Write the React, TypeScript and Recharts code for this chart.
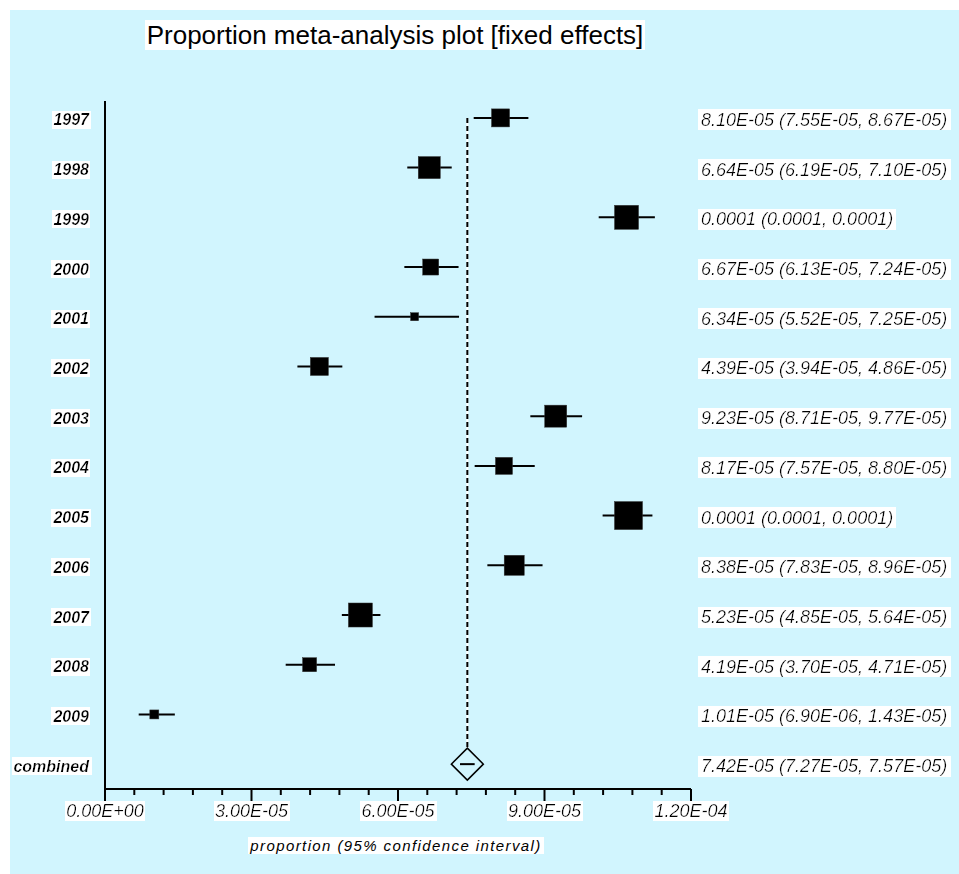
import React from 'react';
import { ScatterChart, Scatter, XAxis, YAxis, ErrorBar, ReferenceLine } from 'recharts';

// ---- data ----
const studyLabels = ['1997', '1998', '1999', '2000', '2001', '2002', '2003', '2004', '2005', '2006', '2007', '2008', '2009'];
const estimates = [8.10e-5, 6.64e-5, 1.068e-4, 6.67e-5, 6.34e-5, 4.39e-5, 9.23e-5, 8.17e-5, 1.072e-4, 8.38e-5, 5.23e-5, 4.19e-5, 1.01e-5];
const lowerCI = [7.55e-5, 6.19e-5, 1.011e-4, 6.13e-5, 5.52e-5, 3.94e-5, 8.71e-5, 7.57e-5, 1.019e-4, 7.83e-5, 4.85e-5, 3.70e-5, 6.90e-6];
const upperCI = [8.67e-5, 7.10e-5, 1.126e-4, 7.24e-5, 7.25e-5, 4.86e-5, 9.77e-5, 8.80e-5, 1.121e-4, 8.96e-5, 5.64e-5, 4.71e-5, 1.43e-5];
// percentage weights (box area proportional to weight)
const weights = [6.70, 10.0, 11.9, 5.29, 1.32, 6.70, 10.0, 5.97, 16.2, 8.27, 11.9, 4.05, 1.67];
const resultLabels = [
  '8.10E-05 (7.55E-05, 8.67E-05)',
  '6.64E-05 (6.19E-05, 7.10E-05)',
  '0.0001 (0.0001, 0.0001)',
  '6.67E-05 (6.13E-05, 7.24E-05)',
  '6.34E-05 (5.52E-05, 7.25E-05)',
  '4.39E-05 (3.94E-05, 4.86E-05)',
  '9.23E-05 (8.71E-05, 9.77E-05)',
  '8.17E-05 (7.57E-05, 8.80E-05)',
  '0.0001 (0.0001, 0.0001)',
  '8.38E-05 (7.83E-05, 8.96E-05)',
  '5.23E-05 (4.85E-05, 5.64E-05)',
  '4.19E-05 (3.70E-05, 4.71E-05)',
  '1.01E-05 (6.90E-06, 1.43E-05)',
];
const pooledLabel = 'combined';
const pooledEstimate = 7.42e-5;
const pooledLower = 7.27e-5;
const pooledUpper = 7.57e-5;
const pooledResult = '7.42E-05 (7.27E-05, 7.57E-05)';
const majorTicks = [0, 3e-5, 6e-5, 9e-5, 1.2e-4];
const minorPerMajor = 5;

const TITLE = 'Proportion meta-analysis plot [fixed effects]';
const X_LABEL = 'proportion (95% confidence interval)';

// ---- derived tables ----
const rowLabels = [...studyLabels, pooledLabel];
const rowResults = [...resultLabels, pooledResult];
const rowIndex = rowLabels.map((_, i) => i);

const studyData = studyLabels.map((name, i) => ({
  name,
  row: i,
  p: estimates[i],
  err: [estimates[i] - lowerCI[i], upperCI[i] - estimates[i]],
  weight: weights[i],
}));
const pooledData = [
  {
    name: pooledLabel,
    row: studyLabels.length,
    p: pooledEstimate,
    err: [pooledEstimate - pooledLower, pooledUpper - pooledEstimate],
  },
];

const xTicks: number[] = [];
majorTicks.forEach((t, i) => {
  xTicks.push(t);
  if (i < majorTicks.length - 1) {
    const step = (majorTicks[i + 1] - t) / minorPerMajor;
    for (let k = 1; k < minorPerMajor; k++) xTicks.push(t + k * step);
  }
});

const fmtExp = (v: number) => {
  const [m, e] = v.toExponential(2).split('e');
  const sign = e[0] === '-' ? '-' : '+';
  const digits = e.replace(/^[+-]/, '').padStart(2, '0');
  return `${m}E${sign}${digits}`;
};

// ---- styles ----
const FONT = '"Liberation Sans", Arial, Helvetica, sans-serif';
const BG = '#d1f5fe';
const Y_DOMAIN: [number, number] = [-0.34, 13.5];
const BOX_SCALE = 6.96;
const DIAMOND_HALF = 16;

const XTick = (props: any) => {
  const { x, y, payload } = props;
  const isMajor = majorTicks.some((t) => Math.abs(t - payload.value) < 1e-10);
  return (
    <g>
      <line x1={x} x2={x} y1={y} y2={y + (isMajor ? 12 : 6)} stroke="#000" strokeWidth={2} />
      {isMajor && (
        <text
          x={x}
          y={y + 22}
          textAnchor="middle"
          dominantBaseline="central"
          filter="url(#wbg)"
          fontFamily={FONT}
          fontStyle="italic"
          fontSize={18}
          fill="#000"
        >
          {fmtExp(payload.value)}
        </text>
      )}
    </g>
  );
};

const LeftTick = (props: any) => {
  const { x, y, payload } = props;
  return (
    <text
      x={x - 16}
      y={y + 2}
      textAnchor="end"
      dominantBaseline="central"
      filter="url(#wbg)"
      fontFamily={FONT}
      fontStyle="italic"
      fontWeight="bold"
      fontSize={16}
      fill="#000"
    >
      {rowLabels[payload.value]}
    </text>
  );
};

const RightTick = (props: any) => {
  const { x, y, payload } = props;
  return (
    <text
      x={x + 10}
      y={y + 2}
      textAnchor="start"
      dominantBaseline="central"
      filter="url(#wbg)"
      fontFamily={FONT}
      fontStyle="italic"
      fontSize={18}
      fill="#000"
    >
      {rowResults[payload.value]}
    </text>
  );
};

const BoxShape = (props: any) => {
  const { cx, cy, payload } = props;
  const s = Math.sqrt(payload.weight) * BOX_SCALE;
  return <rect x={cx - s / 2} y={cy - s / 2} width={s} height={s} fill="#000" stroke="#333" strokeWidth={0.5} />;
};

const DiamondShape = (props: any) => {
  const { cx, cy } = props;
  const h = DIAMOND_HALF;
  return (
    <polygon
      points={`${cx},${cy - h} ${cx + h},${cy} ${cx},${cy + h} ${cx - h},${cy}`}
      fill="none"
      stroke="#000"
      strokeWidth={1.5}
    />
  );
};

export default function App() {
  const lineTop = 0;
  const lineBottom = studyLabels.length - DIAMOND_HALF / 49.7;
  return (
    <div style={{ position: 'absolute', left: 0, top: 0, width: 959, height: 874, background: '#fff', overflow: 'hidden' }}>
      <svg width={0} height={0} style={{ position: 'absolute' }}>
        <defs>
          <filter id="wbg" x="-0.012" y="0" width="1.024" height="1">
            <feFlood floodColor="#ffffff" result="bg" />
            <feComposite in="SourceGraphic" in2="bg" operator="over" />
          </filter>
        </defs>
      </svg>
      <div style={{ position: 'absolute', left: 10, top: 10, width: 949, height: 864, background: BG }} />
      <div style={{ position: 'absolute', left: 0, top: 19, width: 790, textAlign: 'center', fontFamily: FONT, fontSize: 26, lineHeight: '32px' }}>
        <span style={{ background: '#fff', padding: '0 2px' }}>{TITLE}</span>
      </div>
      <div style={{ position: 'absolute', left: 0, top: 835, width: 792, textAlign: 'center', fontFamily: FONT, fontSize: 15, fontStyle: 'italic', lineHeight: '22px', letterSpacing: 1.4 }}>
        <span style={{ background: '#fff', padding: '0 2px' }}>{X_LABEL}</span>
      </div>
      <div style={{ position: 'absolute', left: 0, top: 0 }}>
        <ScatterChart width={959} height={874} margin={{ top: 101, left: 104, right: 267, bottom: 84 }}>
          <XAxis
            type="number"
            dataKey="p"
            domain={[0, 1.2e-4]}
            ticks={xTicks}
            interval={0}
            height={1}
            tickSize={0}
            tickMargin={0}
            tickLine={false}
            axisLine={{ stroke: '#000', strokeWidth: 2 }}
            tick={<XTick />}
            allowDataOverflow
          />
          <YAxis
            yAxisId="left"
            type="number"
            dataKey="row"
            domain={Y_DOMAIN}
            reversed
            ticks={rowIndex}
            interval={0}
            width={1}
            tickSize={0}
            tickMargin={0}
            tickLine={false}
            axisLine={{ stroke: '#000', strokeWidth: 2 }}
            tick={<LeftTick />}
            allowDataOverflow
          />
          <YAxis
            yAxisId="right"
            orientation="right"
            type="number"
            dataKey="row"
            domain={Y_DOMAIN}
            reversed
            ticks={rowIndex}
            interval={0}
            width={1}
            tickSize={0}
            tickMargin={0}
            tickLine={false}
            axisLine={false}
            tick={<RightTick />}
            allowDataOverflow
          />
          <ReferenceLine
            yAxisId="left"
            segment={[{ x: pooledEstimate, y: lineTop }, { x: pooledEstimate, y: lineBottom }]}
            stroke="#fff"
            strokeWidth={2}
            ifOverflow="visible"
          />
          <ReferenceLine
            yAxisId="left"
            segment={[{ x: pooledEstimate, y: lineTop }, { x: pooledEstimate, y: lineBottom }]}
            stroke="#000"
            strokeWidth={2}
            strokeDasharray="5 3"
            ifOverflow="visible"
          />
          <Scatter yAxisId="left" data={studyData} shape={<BoxShape />} isAnimationActive={false}>
            <ErrorBar dataKey="err" direction="x" width={0} stroke="#000" strokeWidth={2} isAnimationActive={false} />
          </Scatter>
          <Scatter yAxisId="left" data={pooledData} shape={<DiamondShape />} isAnimationActive={false}>
            <ErrorBar dataKey="err" direction="x" width={0} stroke="#000" strokeWidth={2} isAnimationActive={false} />
          </Scatter>
        </ScatterChart>
      </div>
    </div>
  );
}
